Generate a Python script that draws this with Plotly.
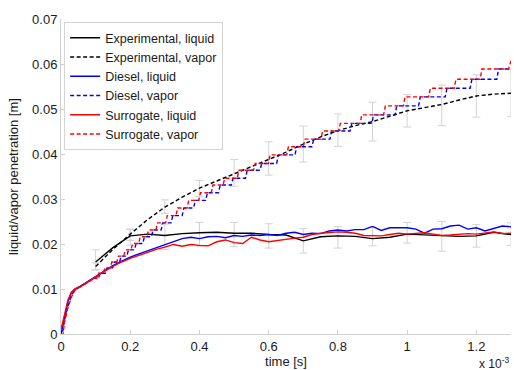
import plotly.graph_objects as go

# ---- data (time in ms, i.e. x 10^-3 s; penetration in m) ----
exp_t = [0.10, 0.15, 0.20, 0.25, 0.30, 0.35, 0.40, 0.45, 0.50, 0.55, 0.60, 0.65, 0.70,
         0.75, 0.80, 0.85, 0.90, 0.95, 1.00, 1.05, 1.10, 1.15, 1.20, 1.25, 1.30]
exp_liquid = [0.0160, 0.0192, 0.0218, 0.0222, 0.0219, 0.0223, 0.0225, 0.0226, 0.0224, 0.0224,
              0.0221, 0.0220, 0.0207, 0.0216, 0.0218, 0.0217, 0.0212, 0.0215, 0.0222, 0.0220,
              0.0218, 0.0217, 0.0218, 0.0226, 0.0221]
exp_vapor = [0.0150, 0.0188, 0.0222, 0.0254, 0.0282, 0.0304, 0.0324, 0.0340, 0.0355, 0.0372,
             0.0388, 0.0404, 0.0422, 0.0438, 0.0452, 0.0463, 0.0472, 0.0484, 0.0496, 0.0503,
             0.0510, 0.0520, 0.0529, 0.0533, 0.0535]

err_t = [0.1, 0.2, 0.3, 0.4, 0.5, 0.6, 0.7, 0.8, 0.9, 1.0, 1.1, 1.2, 1.3]
err_vapor_center = [0.0150, 0.0220, 0.0283, 0.0323, 0.0358, 0.0390, 0.0422, 0.0453, 0.0472,
                    0.0496, 0.0508, 0.0529, 0.0535]
err_vapor_half = [0.0008, 0.0012, 0.0015, 0.0018, 0.0030, 0.0037, 0.0040, 0.0036, 0.0043,
                  0.0036, 0.0045, 0.0047, 0.0052]
err_liquid_center = [0.0165, 0.0215, 0.0216, 0.0221, 0.0221, 0.0218, 0.0207, 0.0215, 0.0217,
                     0.0225, 0.0217, 0.0218, 0.0222]
err_liquid_half = [0.0022, 0.0018, 0.0028, 0.0027, 0.0027, 0.0027, 0.0027, 0.0024, 0.0021,
                   0.0023, 0.0033, 0.0025, 0.0025]

liq_t = [0.0, 0.01, 0.02, 0.03, 0.04, 0.06, 0.08, 0.10, 0.125, 0.15, 0.175, 0.20, 0.225, 0.25,
         0.275, 0.30, 0.325, 0.35, 0.375, 0.40, 0.425, 0.45, 0.475, 0.50, 0.525, 0.55, 0.575,
         0.60, 0.625, 0.65, 0.675, 0.70, 0.725, 0.75, 0.775, 0.80, 0.825, 0.85, 0.875, 0.90,
         0.925, 0.95, 0.975, 1.00, 1.025, 1.05, 1.075, 1.10, 1.125, 1.15, 1.175, 1.20, 1.225,
         1.25, 1.275, 1.30]
diesel_liquid = [0.0000, 0.0040, 0.0072, 0.0092, 0.0100, 0.0108, 0.0118, 0.0128, 0.0140, 0.0152,
                 0.0162, 0.0171, 0.0178, 0.0185, 0.0192, 0.0198, 0.0205, 0.0212, 0.0215, 0.0212,
                 0.0216, 0.0217, 0.0214, 0.0219, 0.0217, 0.0220, 0.0219, 0.0221, 0.0219, 0.0224,
                 0.0226, 0.0221, 0.0224, 0.0223, 0.0229, 0.0231, 0.0229, 0.0232, 0.0232, 0.0239,
                 0.0230, 0.0236, 0.0236, 0.0236, 0.0233, 0.0224, 0.0233, 0.0234, 0.0240, 0.0242,
                 0.0233, 0.0236, 0.0229, 0.0234, 0.0240, 0.0238]
surrogate_liquid = [0.0010, 0.0045, 0.0075, 0.0093, 0.0100, 0.0107, 0.0117, 0.0127, 0.0139, 0.0150,
                    0.0160, 0.0168, 0.0175, 0.0182, 0.0188, 0.0193, 0.0199, 0.0195, 0.0199, 0.0197,
                    0.0196, 0.0205, 0.0209, 0.0203, 0.0201, 0.0215, 0.0209, 0.0205, 0.0208, 0.0211,
                    0.0213, 0.0215, 0.0221, 0.0224, 0.0226, 0.0227, 0.0226, 0.0224, 0.0219, 0.0219,
                    0.0218, 0.0221, 0.0224, 0.0222, 0.0223, 0.0225, 0.0222, 0.0219, 0.0220, 0.0221,
                    0.0223, 0.0222, 0.0224, 0.0227, 0.0223, 0.0224]

# early (smooth) part of the vapor curves, before the stair-stepping begins
vap_early_t = [0.005, 0.01, 0.02, 0.03, 0.04, 0.06, 0.08, 0.095]
diesel_vap_early = [0.0005, 0.0030, 0.0062, 0.0085, 0.0098, 0.0107, 0.0116, 0.0124]
surrogate_vap_early = [-0.0005, 0.0025, 0.0058, 0.0082, 0.0097, 0.0106, 0.0115, 0.0123]

# stair levels of the computed vapor penetration and the times each level is reached
vap_levels = [0.0135, 0.0147, 0.0160, 0.0173, 0.0187, 0.0201, 0.0216, 0.0231, 0.0247, 0.0263,
              0.0280, 0.0297, 0.0314, 0.0331, 0.0346, 0.0364, 0.0379, 0.0398, 0.0416, 0.0433,
              0.0451, 0.0468, 0.0487, 0.0507, 0.0527, 0.0546, 0.0566, 0.0589, 0.0607]
surrogate_jump_t = [0.103, 0.122, 0.142, 0.161, 0.181, 0.202, 0.224, 0.248, 0.274, 0.302,
                    0.332, 0.364, 0.398, 0.434, 0.468, 0.509, 0.556, 0.599, 0.652, 0.700,
                    0.751, 0.802, 0.864, 0.932, 0.989, 1.062, 1.136, 1.211, 1.293]
diesel_jump_t = [0.108, 0.128, 0.149, 0.169, 0.190, 0.212, 0.236, 0.261, 0.289, 0.318,
                 0.350, 0.383, 0.418, 0.455, 0.492, 0.533, 0.575, 0.623, 0.676, 0.725,
                 0.777, 0.835, 0.898, 0.965, 1.033, 1.110, 1.182, 1.259]

T_END = 1.30
RISE = 0.005


def stairs(early_t, early_y, jumps, levels):
    xs, ys = list(early_t), list(early_y)
    prev = early_y[-1]
    for tj, lv in zip(jumps, levels):
        xs += [tj, tj + RISE]
        ys += [prev, lv]
        prev = lv
    xs.append(T_END)
    ys.append(prev)
    return xs, ys


dv_x, dv_y = stairs(vap_early_t, diesel_vap_early, diesel_jump_t, vap_levels)
sv_x, sv_y = stairs(vap_early_t, surrogate_vap_early, surrogate_jump_t, vap_levels)

FONT = "Arial"
TXT = "#1a1a1a"
ERR_COLOR = "#d2d2d2"
DASH = "4px,2.5px"

fig = go.Figure()

for c, h in ((err_vapor_center, err_vapor_half), (err_liquid_center, err_liquid_half)):
    fig.add_trace(go.Scatter(
        x=err_t, y=c, mode="markers", showlegend=False, hoverinfo="skip",
        marker=dict(size=1, color="rgba(0,0,0,0)"),
        error_y=dict(type="data", array=h, visible=True, color=ERR_COLOR,
                     thickness=1, width=4)))

fig.add_trace(go.Scatter(x=exp_t, y=exp_liquid, mode="lines", name="Experimental, liquid",
                         line=dict(color="#000000", width=1.4)))
fig.add_trace(go.Scatter(x=exp_t, y=exp_vapor, mode="lines", name="Experimental, vapor",
                         line=dict(color="#000000", width=1.4, dash=DASH)))
fig.add_trace(go.Scatter(x=liq_t, y=diesel_liquid, mode="lines", name="Diesel, liquid",
                         line=dict(color="#0000ff", width=1.4)))
fig.add_trace(go.Scatter(x=dv_x, y=dv_y, mode="lines", name="Diesel, vapor",
                         line=dict(color="#0000ff", width=1.4, dash=DASH)))
fig.add_trace(go.Scatter(x=liq_t, y=surrogate_liquid, mode="lines", name="Surrogate, liquid",
                         line=dict(color="#ff0000", width=1.4)))
fig.add_trace(go.Scatter(x=sv_x, y=sv_y, mode="lines", name="Surrogate, vapor",
                         line=dict(color="#ff0000", width=1.4, dash=DASH)))

x_ticks = [0, 0.2, 0.4, 0.6, 0.8, 1.0, 1.2]
x_tick_labels = ["0", "0.2", "0.4", "0.6", "0.8", "1", "1.2"]
y_ticks = [0, 0.01, 0.02, 0.03, 0.04, 0.05, 0.06, 0.07]
y_tick_labels = ["0", "0.01", "0.02", "0.03", "0.04", "0.05", "0.06", "0.07"]

fig.update_layout(
    width=514, height=370,
    margin=dict(l=61, r=3, t=19, b=36),
    paper_bgcolor="white", plot_bgcolor="white",
    font=dict(family=FONT, size=13, color=TXT),
    showlegend=True,
    legend=dict(x=0.007, y=0.99, xanchor="left", yanchor="top",
                bgcolor="white", bordercolor="#d4d4d4", borderwidth=1,
                font=dict(size=12.5, family=FONT, color=TXT),
                tracegroupgap=0, itemwidth=30),
    xaxis=dict(range=[0, 1.3], tickvals=x_ticks, ticktext=x_tick_labels,
               showgrid=False, zeroline=False, showline=True, linecolor="#d0d0d0",
               linewidth=1, ticks="inside", ticklen=4, tickcolor="#d0d0d0",
               tickfont=dict(family=FONT, size=13, color=TXT),
               title=dict(text="time [s]", font=dict(size=13, family=FONT, color=TXT), standoff=2)),
    yaxis=dict(range=[0, 0.07], tickvals=y_ticks, ticktext=y_tick_labels,
               showgrid=False, zeroline=False, showline=True, linecolor="#d0d0d0",
               linewidth=1, ticks="inside", ticklen=4, tickcolor="#d0d0d0",
               tickfont=dict(family=FONT, size=13, color=TXT),
               title=dict(text="liquid/vapor penetration [m]",
                          font=dict(size=13, family=FONT, color=TXT), standoff=10)),
    annotations=[dict(text="x 10<sup>-3</sup>", xref="paper", yref="paper",
                      x=1.0, y=-0.06, xanchor="right", yanchor="top", showarrow=False,
                      font=dict(size=12, family=FONT, color=TXT))],
)

fig.write_html("out.html")
